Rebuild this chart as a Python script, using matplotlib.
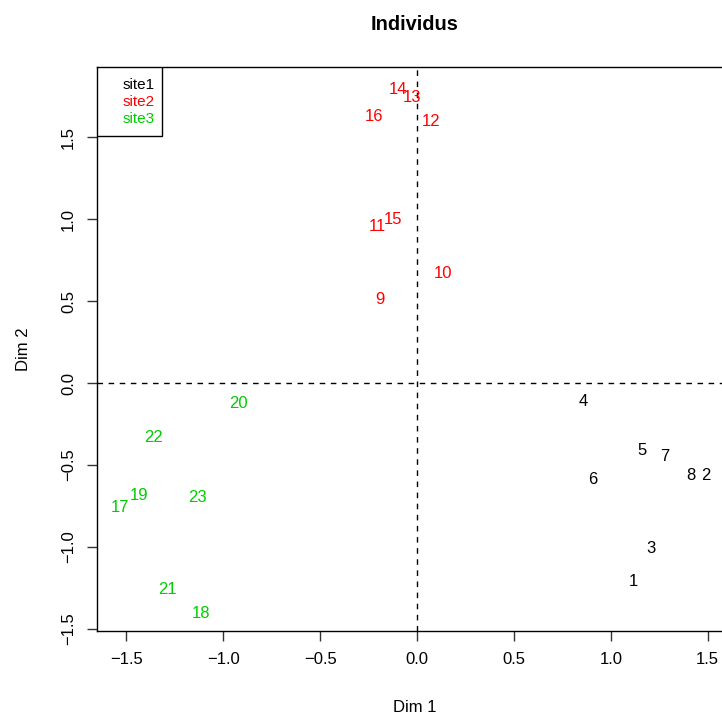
import matplotlib
matplotlib.use("Agg")
from matplotlib import pyplot as plt
from matplotlib.patches import Rectangle

plt.rcParams['font.family'] = ['Liberation Sans', 'DejaVu Sans']

# individual coordinates on the first two dimensions
labels = [str(i) for i in range(1, 24)]
dim1 = [1.115, 1.492, 1.208, 0.857, 1.162, 0.909, 1.280, 1.415,
        -0.191, 0.134, -0.207, 0.072, -0.026, -0.098, -0.124, -0.222,
        -1.533, -1.115, -1.435, -0.924, -1.286, -1.358, -1.131]
dim2 = [-1.201, -0.555, -1.000, -0.104, -0.402, -0.579, -0.439, -0.555,
        0.518, 0.677, 0.963, 1.604, 1.750, 1.799, 1.006, 1.634,
        -0.750, -1.396, -0.677, -0.116, -1.250, -0.323, -0.689]
site = ["site1"] * 8 + ["site2"] * 8 + ["site3"] * 7
site_names = ["site1", "site2", "site3"]
site_colors = {"site1": "black", "site2": "#FF0000", "site3": "#00CD00"}
ticks = [-1.5, -1.0, -0.5, 0.0, 0.5, 1.0, 1.5]

fig = plt.figure(figsize=(7.22, 7.22), dpi=100)
ax = fig.add_axes([97 / 722, 1 - 631 / 722, (733 - 97) / 722, (631 - 67) / 722])

for lab, x, y, s in zip(labels, dim1, dim2, site):
    ax.text(x, y, lab, color=site_colors[s], fontsize=12, ha="center", va="center_baseline")

ax.axhline(0, color="black", lw=1, ls=(0, (4, 4)))
ax.axvline(0, color="black", lw=1, ls=(0, (4, 4)))

ax.set_xlim(-1.652, 1.631)
ax.set_ylim(-1.512, 1.927)
ax.set_xticks(ticks)
ax.set_yticks(ticks)
ax.set_xticklabels([f"{t:.1f}".replace("-", "\u2212") for t in ticks], fontsize=12)
ax.set_yticklabels([f"{t:.1f}".replace("-", "\u2212") for t in ticks], fontsize=12,
                   rotation=90, va="center")
ax.tick_params(direction="out", length=7, width=1, color="#333333", pad=8)
for sp in ax.spines.values():
    sp.set_linewidth(1)
    sp.set_color("black")

ax.set_xlabel("Dim 1", fontsize=12, labelpad=24)
ax.set_ylabel("Dim 2", fontsize=12, labelpad=22)
ax.set_title("Individus", fontsize=14.4, fontweight="bold", pad=27)

# R-style legend box in the top-left corner
ax.add_patch(Rectangle((0, 0.878), 0.102, 0.122, transform=ax.transAxes,
                       facecolor="white", edgecolor="black", lw=1, zorder=5))
for i, s in enumerate(site_names):
    ax.text(0.0912, 0.970 - 0.0301 * i, s, color=site_colors[s], fontsize=11,
            ha="right", va="center_baseline", transform=ax.transAxes, zorder=6)

fig.savefig("out.png", dpi=100)
